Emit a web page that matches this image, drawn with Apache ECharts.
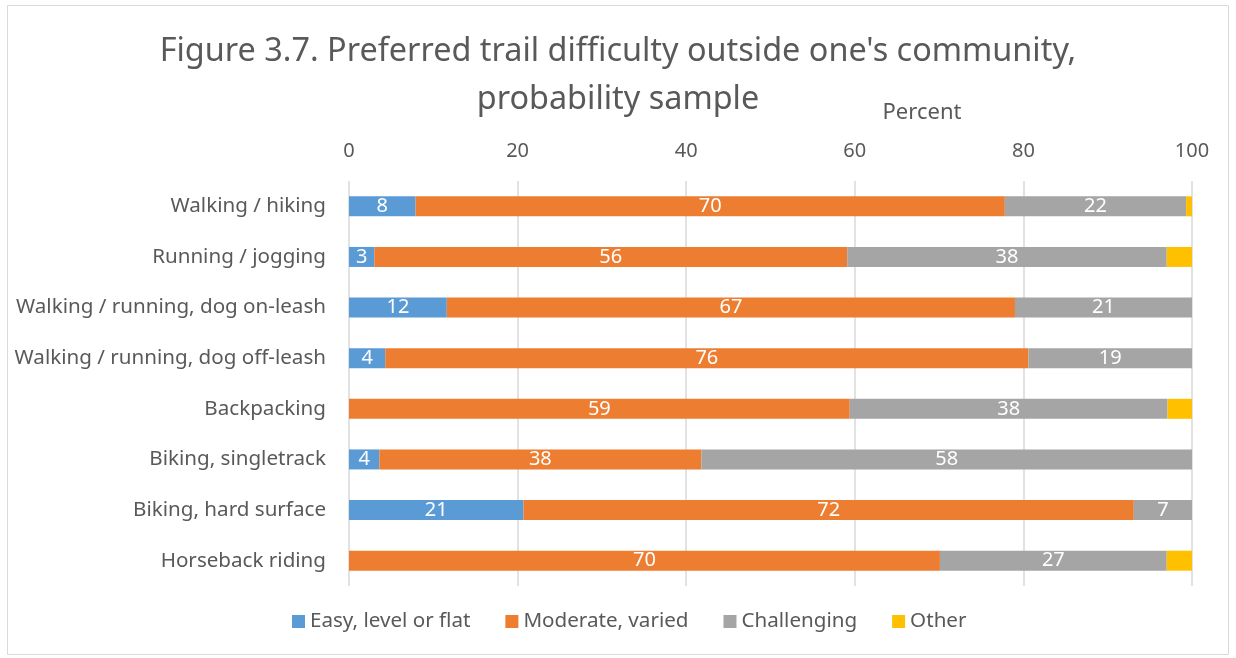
<html lang="en">
<head>
  <meta charset="UTF-8">
  <title>Figure 3.7</title>
  <script src="https://cdn.jsdelivr.net/npm/echarts@6/dist/echarts.min.js"></script>
  <style>
    body { margin: 0; padding: 0; background: #fff; }
    #chart { width: 1236px; height: 658px; }
  </style>
</head>
<body>
  <div id="chart"></div>
  <script>
    const categories = [
      'Walking / hiking',
      'Running / jogging',
      'Walking / running, dog on-leash',
      'Walking / running, dog off-leash',
      'Backpacking',
      'Biking, singletrack',
      'Biking, hard surface',
      'Horseback riding'
    ];
    const easy = [7.9, 3.0, 11.6, 4.3, 0, 3.6, 20.7, 0];
    const moderate = [69.9, 56.1, 67.4, 76.3, 59.4, 38.2, 72.4, 70.1];
    const challenging = [21.5, 37.9, 21.0, 19.4, 37.7, 58.2, 6.9, 26.9];
    const other = [0.7, 3.0, 0, 0, 2.9, 0, 0, 3.0];
    const ticks = [0, 20, 40, 60, 80, 100];

    const textColor = '#595959';
    const font = 'Noto Sans';

    function barSeries(name, data, color, showLabel) {
      return {
        name: name,
        type: 'bar',
        stack: 'total',
        barWidth: 20,
        data: data,
        itemStyle: { color: color },
        label: {
          show: showLabel,
          position: 'inside',
          color: '#fff',
          fontFamily: font,
          fontSize: 20,
          formatter: function (p) {
            return p.value > 0 ? Math.round(p.value) : '';
          }
        }
      };
    }

    const chart = echarts.init(document.getElementById('chart'));
    chart.setOption({
      animation: false,
      textStyle: { fontFamily: font },
      title: {
        text: "Figure 3.7. Preferred trail difficulty outside one's community,\nprobability sample",
        left: 'center',
        top: 23,
        textStyle: {
          color: textColor,
          fontFamily: font,
          fontSize: 32.4,
          fontWeight: 'normal',
          lineHeight: 48
        }
      },
      graphic: [
        {
          type: 'rect',
          shape: { x: 7.5, y: 5.5, width: 1221, height: 649 },
          style: { fill: 'none', stroke: '#d9d9d9', lineWidth: 1 }
        },
        {
          type: 'text',
          x: 922,
          y: 113,
          style: {
            text: 'Percent',
            fill: textColor,
            font: '22px ' + font,
            textAlign: 'center',
            textVerticalAlign: 'middle'
          }
        }
      ],
      legend: {
        top: 606,
        left: 287,
        itemWidth: 13,
        itemHeight: 13,
        itemGap: 35,
        icon: 'rect',
        textStyle: { color: textColor, fontFamily: font, fontSize: 20.6 },
        data: ['Easy, level or flat', 'Moderate, varied', 'Challenging', 'Other']
      },
      grid: {
        left: 349,
        right: 44,
        top: 181,
        height: 405
      },
      xAxis: {
        type: 'value',
        position: 'top',
        min: ticks[0],
        max: ticks[ticks.length - 1],
        interval: 20,
        axisLine: { show: false },
        axisTick: { show: false },
        axisLabel: { color: textColor, fontSize: 20, fontFamily: font, margin: 20 },
        splitLine: { lineStyle: { color: '#d9d9d9', width: 1.5 } }
      },
      yAxis: {
        type: 'category',
        inverse: true,
        data: categories,
        axisLine: { show: false },
        axisTick: { show: false },
        axisLabel: { color: textColor, fontSize: 20.6, fontFamily: font, margin: 23 }
      },
      series: [
        barSeries('Easy, level or flat', easy, '#5b9bd5', true),
        barSeries('Moderate, varied', moderate, '#ed7d31', true),
        barSeries('Challenging', challenging, '#a5a5a5', true),
        barSeries('Other', other, '#ffc000', false)
      ]
    });
  </script>
</body>
</html>
